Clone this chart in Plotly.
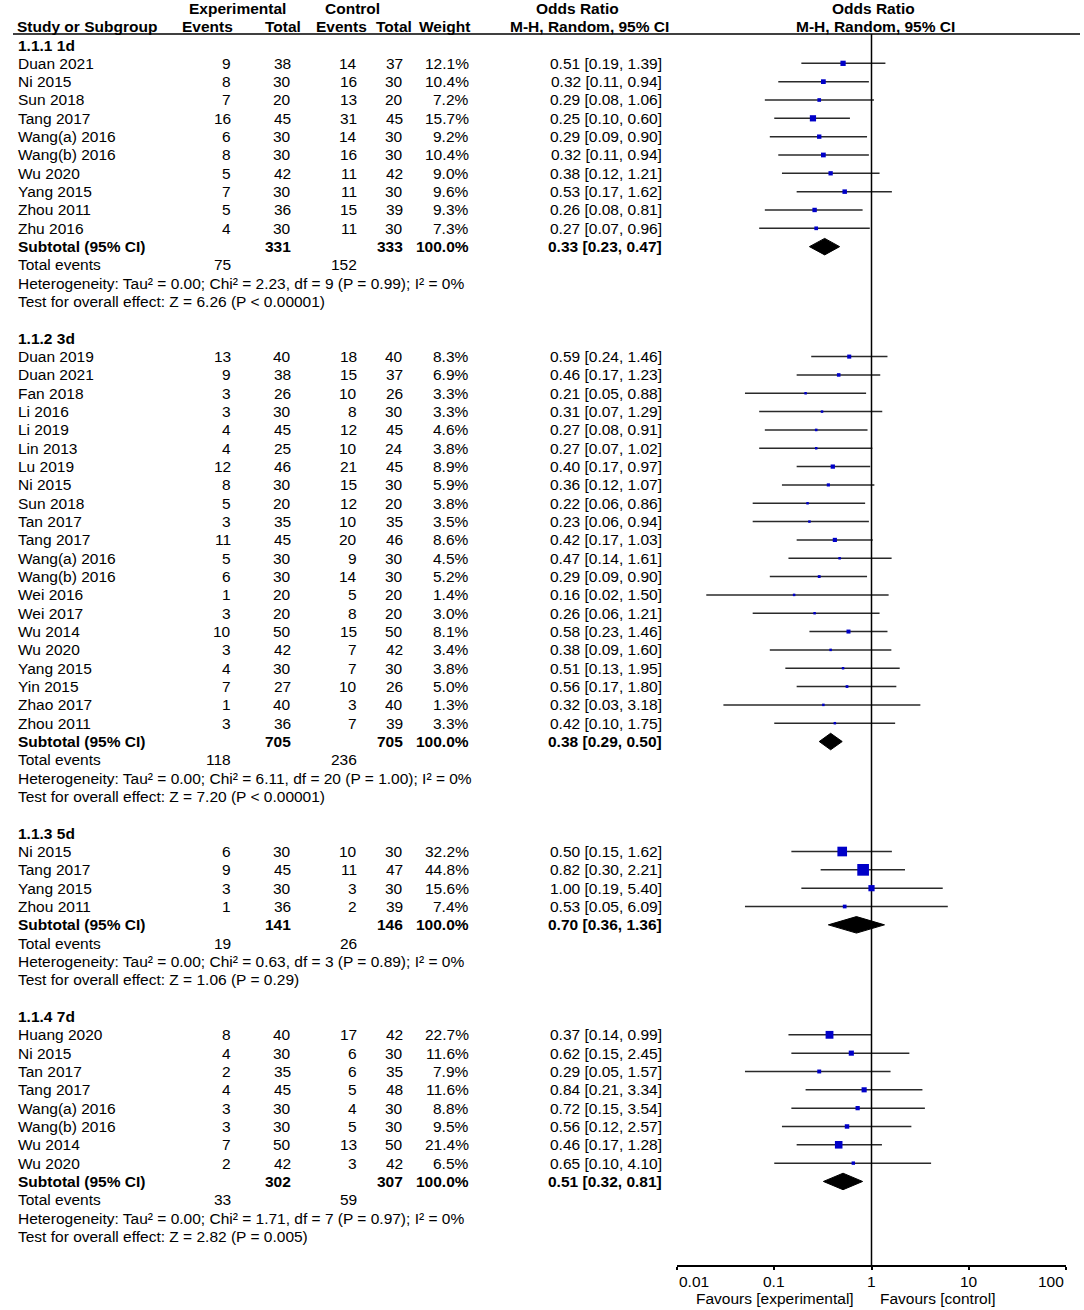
import math
import plotly.graph_objects as go

# ---------------- DATA ----------------
sec_titles = ["1.1.1 1d", "1.1.2 3d", "1.1.3 5d", "1.1.4 7d"]

names1 = ["Duan 2021", "Ni 2015", "Sun 2018", "Tang 2017", "Wang(a) 2016", "Wang(b) 2016",
          "Wu 2020", "Yang 2015", "Zhou 2011", "Zhu 2016"]
exp_ev1 = [9, 8, 7, 16, 6, 8, 5, 7, 5, 4]
exp_tot1 = [38, 30, 20, 45, 30, 30, 42, 30, 36, 30]
ctl_ev1 = [14, 16, 13, 31, 14, 16, 11, 11, 15, 11]
ctl_tot1 = [37, 30, 20, 45, 30, 30, 42, 30, 39, 30]
w1 = [12.1, 10.4, 7.2, 15.7, 9.2, 10.4, 9.0, 9.6, 9.3, 7.3]
or1 = [0.51, 0.32, 0.29, 0.25, 0.29, 0.32, 0.38, 0.53, 0.26, 0.27]
lo1 = [0.19, 0.11, 0.08, 0.10, 0.09, 0.11, 0.12, 0.17, 0.08, 0.07]
hi1 = [1.39, 0.94, 1.06, 0.60, 0.90, 0.94, 1.21, 1.62, 0.81, 0.96]

names2 = ["Duan 2019", "Duan 2021", "Fan 2018", "Li 2016", "Li 2019", "Lin 2013", "Lu 2019",
          "Ni 2015", "Sun 2018", "Tan 2017", "Tang 2017", "Wang(a) 2016", "Wang(b) 2016",
          "Wei 2016", "Wei 2017", "Wu 2014", "Wu 2020", "Yang 2015", "Yin 2015", "Zhao 2017",
          "Zhou 2011"]
exp_ev2 = [13, 9, 3, 3, 4, 4, 12, 8, 5, 3, 11, 5, 6, 1, 3, 10, 3, 4, 7, 1, 3]
exp_tot2 = [40, 38, 26, 30, 45, 25, 46, 30, 20, 35, 45, 30, 30, 20, 20, 50, 42, 30, 27, 40, 36]
ctl_ev2 = [18, 15, 10, 8, 12, 10, 21, 15, 12, 10, 20, 9, 14, 5, 8, 15, 7, 7, 10, 3, 7]
ctl_tot2 = [40, 37, 26, 30, 45, 24, 45, 30, 20, 35, 46, 30, 30, 20, 20, 50, 42, 30, 26, 40, 39]
w2 = [8.3, 6.9, 3.3, 3.3, 4.6, 3.8, 8.9, 5.9, 3.8, 3.5, 8.6, 4.5, 5.2, 1.4, 3.0, 8.1, 3.4, 3.8,
      5.0, 1.3, 3.3]
or2 = [0.59, 0.46, 0.21, 0.31, 0.27, 0.27, 0.40, 0.36, 0.22, 0.23, 0.42, 0.47, 0.29, 0.16, 0.26,
       0.58, 0.38, 0.51, 0.56, 0.32, 0.42]
lo2 = [0.24, 0.17, 0.05, 0.07, 0.08, 0.07, 0.17, 0.12, 0.06, 0.06, 0.17, 0.14, 0.09, 0.02, 0.06,
       0.23, 0.09, 0.13, 0.17, 0.03, 0.10]
hi2 = [1.46, 1.23, 0.88, 1.29, 0.91, 1.02, 0.97, 1.07, 0.86, 0.94, 1.03, 1.61, 0.90, 1.50, 1.21,
       1.46, 1.60, 1.95, 1.80, 3.18, 1.75]

names3 = ["Ni 2015", "Tang 2017", "Yang 2015", "Zhou 2011"]
exp_ev3 = [6, 9, 3, 1]
exp_tot3 = [30, 45, 30, 36]
ctl_ev3 = [10, 11, 3, 2]
ctl_tot3 = [30, 47, 30, 39]
w3 = [32.2, 44.8, 15.6, 7.4]
or3 = [0.50, 0.82, 1.00, 0.53]
lo3 = [0.15, 0.30, 0.19, 0.05]
hi3 = [1.62, 2.21, 5.40, 6.09]

names4 = ["Huang 2020", "Ni 2015", "Tan 2017", "Tang 2017", "Wang(a) 2016", "Wang(b) 2016",
          "Wu 2014", "Wu 2020"]
exp_ev4 = [8, 4, 2, 4, 3, 3, 7, 2]
exp_tot4 = [40, 30, 35, 45, 30, 30, 50, 42]
ctl_ev4 = [17, 6, 6, 5, 4, 5, 13, 3]
ctl_tot4 = [42, 30, 35, 48, 30, 30, 50, 42]
w4 = [22.7, 11.6, 7.9, 11.6, 8.8, 9.5, 21.4, 6.5]
or4 = [0.37, 0.62, 0.29, 0.84, 0.72, 0.56, 0.46, 0.65]
lo4 = [0.14, 0.15, 0.05, 0.21, 0.15, 0.12, 0.17, 0.10]
hi4 = [0.99, 2.45, 1.57, 3.34, 3.54, 2.57, 1.28, 4.10]

sub_exp_tot = [331, 705, 141, 302]
sub_ctl_tot = [333, 705, 146, 307]
sub_or = [0.33, 0.38, 0.70, 0.51]
sub_lo = [0.23, 0.29, 0.36, 0.32]
sub_hi = [0.47, 0.50, 1.36, 0.81]
sub_or_text = ["0.33 [0.23, 0.47]", "0.38 [0.29, 0.50]", "0.70 [0.36, 1.36]", "0.51 [0.32, 0.81]"]
tot_ev_exp = [75, 118, 19, 33]
tot_ev_ctl = [152, 236, 26, 59]
het_text = [
    "Heterogeneity: Tau² = 0.00; Chi² = 2.23, df = 9 (P = 0.99); I² = 0%",
    "Heterogeneity: Tau² = 0.00; Chi² = 6.11, df = 20 (P = 1.00); I² = 0%",
    "Heterogeneity: Tau² = 0.00; Chi² = 0.63, df = 3 (P = 0.89); I² = 0%",
    "Heterogeneity: Tau² = 0.00; Chi² = 1.71, df = 7 (P = 0.97); I² = 0%",
]
test_text = [
    "Test for overall effect: Z = 6.26 (P < 0.00001)",
    "Test for overall effect: Z = 7.20 (P < 0.00001)",
    "Test for overall effect: Z = 1.06 (P = 0.29)",
    "Test for overall effect: Z = 2.82 (P = 0.005)",
]

tick_vals = [0.01, 0.1, 1, 10, 100]
tick_text = ["0.01", "0.1", "1", "10", "100"]

sections = [
    (names1, exp_ev1, exp_tot1, ctl_ev1, ctl_tot1, w1, or1, lo1, hi1),
    (names2, exp_ev2, exp_tot2, ctl_ev2, ctl_tot2, w2, or2, lo2, hi2),
    (names3, exp_ev3, exp_tot3, ctl_ev3, ctl_tot3, w3, or3, lo3, hi3),
    (names4, exp_ev4, exp_tot4, ctl_ev4, ctl_tot4, w4, or4, lo4, hi4),
]

# ---------------- LAYOUT CONSTANTS ----------------
W, H = 1084, 1310
ROW0, ROWH = 45.0, 18.33
AXIS_PX = 1265.0
HEAD_LINE_PX = 34.0
FONT = "Liberation Sans, Arial, sans-serif"
FS = 15.5
X_NAME = 17
X_EXP_EV, X_EXP_TOT, X_CTL_EV, X_CTL_TOT, X_W = 232, 292, 358, 404, 470
X_OR = 663
SQ_COLOR = "rgb(0,0,200)"
CI_COLOR = "#2a2a2a"


def px2r(p):
    return (p - ROW0) / ROWH


ann = []


def txt(px, r, s, anchor="left", bold=False, yref="y"):
    ann.append(dict(x=px / W, xref="paper", y=r, yref=yref,
                    text=f"<b>{s}</b>" if bold else s, showarrow=False,
                    xanchor=anchor, yanchor="middle", borderpad=0,
                    font=dict(family=FONT, size=FS, color="black")))


# header
r_h1, r_h2 = px2r(8), px2r(26)
txt(237, r_h1, "Experimental", "center", True)
txt(352, r_h1, "Control", "center", True)
txt(577, r_h1, "Odds Ratio", "center", True)
txt(873, r_h1, "Odds Ratio", "center", True)
txt(16, r_h2, "Study or Subgroup", "left", True)
txt(234, r_h2, "Events", "right", True)
txt(302, r_h2, "Total", "right", True)
txt(368, r_h2, "Events", "right", True)
txt(413, r_h2, "Total", "right", True)
txt(471, r_h2, "Weight", "right", True)
txt(670, r_h2, "M-H, Random, 95% CI", "right", True)
txt(875, r_h2, "M-H, Random, 95% CI", "center", True)

ci_x, ci_y = [], []
sq_x, sq_y, sq_s = [], [], []
dia_traces = []

r = 0
for k, (nm, ee, et, ce, ct, ww, oo, ll, hh) in enumerate(sections):
    txt(X_NAME, r, sec_titles[k], "left", True)
    r += 1
    for i in range(len(nm)):
        txt(X_NAME, r, nm[i])
        txt(X_EXP_EV, r, str(ee[i]), "right")
        txt(X_EXP_TOT, r, str(et[i]), "right")
        txt(X_CTL_EV, r, str(ce[i]), "right")
        txt(X_CTL_TOT, r, str(ct[i]), "right")
        txt(X_W, r, f"{ww[i]:.1f}%", "right")
        txt(X_OR, r, f"{oo[i]:.2f} [{ll[i]:.2f}, {hh[i]:.2f}]", "right")
        ci_x += [ll[i], hh[i], None]
        ci_y += [r, r, None]
        sq_x.append(oo[i])
        sq_y.append(r)
        sq_s.append(max(2.5, 2.0 * math.sqrt(ww[i]) - 1.7))
        r += 1
    # subtotal
    txt(X_NAME, r, "Subtotal (95% CI)", "left", True)
    txt(X_EXP_TOT, r, str(sub_exp_tot[k]), "right", True)
    txt(X_CTL_TOT, r, str(sub_ctl_tot[k]), "right", True)
    txt(X_W, r, "100.0%", "right", True)
    txt(X_OR, r, sub_or_text[k], "right", True)
    hd = 0.45
    dia_traces.append(go.Scatter(
        x=[sub_lo[k], sub_or[k], sub_hi[k], sub_or[k], sub_lo[k]],
        y=[r, r - hd, r, r + hd, r], mode="lines", fill="toself",
        fillcolor="black", line=dict(color="black", width=1), hoverinfo="skip"))
    r += 1
    txt(X_NAME, r, "Total events")
    txt(X_EXP_EV, r, str(tot_ev_exp[k]), "right")
    txt(X_CTL_EV, r, str(tot_ev_ctl[k]), "right")
    r += 1
    txt(X_NAME, r, het_text[k])
    r += 1
    txt(X_NAME, r, test_text[k])
    r += 2

fig = go.Figure()
fig.add_trace(go.Scatter(x=ci_x, y=ci_y, mode="lines",
                         line=dict(color=CI_COLOR, width=1.5), hoverinfo="skip"))
fig.add_trace(go.Scatter(x=[1, 1], y=[px2r(HEAD_LINE_PX), px2r(AXIS_PX)], mode="lines",
                         line=dict(color="black", width=1.5), hoverinfo="skip"))
for t in dia_traces:
    fig.add_trace(t)
fig.add_trace(go.Scatter(x=sq_x, y=sq_y, mode="markers",
                         marker=dict(symbol="square", size=sq_s, color=SQ_COLOR,
                                     opacity=1, line=dict(width=0)), hoverinfo="skip"))

# tick labels
for i, (tv, tt) in enumerate(zip(tick_vals, tick_text)):
    anchor = "left" if i == 0 else ("right" if i == len(tick_vals) - 1 else "center")
    ann.append(dict(x=math.log10(tv), xref="x", y=(H - 1281) / H, yref="paper",
                    text=tt, showarrow=False, xanchor=anchor, yanchor="middle",
                    font=dict(family=FONT, size=FS, color="black")))
ann.append(dict(x=856 / W, xref="paper", y=(H - 1298) / H, yref="paper",
                text="Favours [experimental]", showarrow=False, xanchor="right",
                yanchor="middle", font=dict(family=FONT, size=FS, color="black")))
ann.append(dict(x=878 / W, xref="paper", y=(H - 1298) / H, yref="paper",
                text="Favours [control]", showarrow=False, xanchor="left",
                yanchor="middle", font=dict(family=FONT, size=FS, color="black")))

fig.update_layout(
    width=W, height=H, margin=dict(l=0, r=0, t=0, b=0, pad=0),
    paper_bgcolor="white", plot_bgcolor="white", showlegend=False,
    annotations=ann,
    shapes=[dict(type="line", xref="paper", yref="y", x0=13 / W, x1=1080 / W,
                 y0=px2r(HEAD_LINE_PX), y1=px2r(HEAD_LINE_PX),
                 line=dict(color="black", width=1.5))],
    xaxis=dict(type="log", range=[-2, 2], domain=[677 / W, 1066 / W],
               showline=True, linecolor="black", linewidth=1.5,
               ticks="outside", ticklen=3, tickwidth=1.5, tickcolor="black",
               tickvals=tick_vals, showticklabels=False,
               showgrid=False, zeroline=False, fixedrange=True),
    xaxis2=dict(type="log", range=[-2, 2], domain=[677 / W, 1066 / W],
                overlaying="x", anchor="y", side="bottom",
                showline=False, ticks="inside", ticklen=3, tickwidth=1.5,
                tickcolor="black", tickvals=tick_vals, showticklabels=False,
                showgrid=False, zeroline=False, fixedrange=True),
    yaxis=dict(range=[px2r(AXIS_PX), px2r(0)], domain=[(H - AXIS_PX) / H, 1],
               visible=False, showgrid=False, zeroline=False, fixedrange=True),
)

fig.write_html("out.html", config={"displayModeBar": False},
               post_script="document.body.style.margin='0';")
